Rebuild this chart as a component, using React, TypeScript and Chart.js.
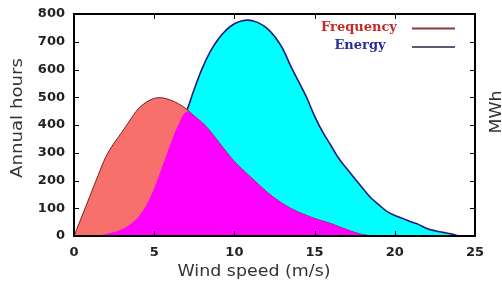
import React, { useEffect, useRef } from "react";
import { Chart, registerables } from "chart.js";

Chart.register(...registerables);

const windSpeed = [
  0, 0.5, 1, 1.5, 2, 2.5, 3, 3.5, 4, 4.5, 5, 5.5, 6, 6.5, 7, 7.5, 8, 8.5, 9, 9.5,
  10, 10.5, 11, 11.5, 12, 12.5, 13, 13.5, 14, 14.5, 15, 15.5, 16, 16.5, 17, 17.5,
  18, 18.5, 19, 19.5, 20, 20.5, 21, 21.5, 22, 22.5, 23, 23.5, 24, 24.5, 25,
];

const frequency = [
  0, 72, 145, 218, 287, 335, 375, 418, 458, 482, 496, 498, 490, 477, 458, 432,
  408, 377, 340, 303, 268, 240, 213, 186, 160, 137, 117, 100, 86, 74, 63, 54,
  45, 34, 23, 13, 5, 1, 0, 0, 0, 0, 0, 0, 0, 0, 0, 0, 0, 0, 0,
];

const energy = [
  0, 0, 0, 2, 7, 14, 24, 42, 68, 110, 172, 250, 330, 400, 448, 530, 605, 665,
  710, 743, 765, 776, 777, 768, 750, 720, 676, 614, 557, 500, 432, 375, 328,
  280, 243, 207, 172, 138, 113, 89, 74, 63, 51, 41, 27, 19, 13, 8, 1, 0, 0,
];

const xTicks = [0, 5, 10, 15, 20, 25];
const yTicks = [0, 100, 200, 300, 400, 500, 600, 700, 800];

const seriesNames = ["Frequency", "Energy"];
const xTitle = "Wind speed (m/s)";
const yTitle = "Annual hours";
const y2Title = "MWh";

function drawFitted(
  ctx: CanvasRenderingContext2D,
  text: string,
  cx: number,
  cy: number,
  targetW: number,
  font: string,
  color: string,
  rot: number
) {
  ctx.save();
  ctx.translate(cx, cy);
  if (rot) ctx.rotate(rot);
  ctx.font = font;
  const w = ctx.measureText(text).width;
  ctx.scale(targetW / w, 1);
  ctx.fillStyle = color;
  ctx.textAlign = "center";
  ctx.textBaseline = "middle";
  ctx.fillText(text, 0, 0);
  ctx.restore();
}

const overlayPlugin = {
  id: "framePlugin",
  afterDraw(chart: any) {
    const ctx = chart.ctx;
    const a = chart.chartArea;
    const xs = chart.scales.x;
    const ys = chart.scales.y;

    ctx.save();
    ctx.strokeStyle = "#000000";
    ctx.lineWidth = 2;
    ctx.strokeRect(a.left, a.top, a.right - a.left, a.bottom - a.top);
    ctx.lineWidth = 1;
    ctx.beginPath();
    for (let i = 1; i < yTicks.length - 1; i++) {
      const py = Math.round(ys.getPixelForValue(yTicks[i])) + 0.5;
      ctx.moveTo(a.left, py);
      ctx.lineTo(a.left + 5, py);
      ctx.moveTo(a.right, py);
      ctx.lineTo(a.right - 5, py);
    }
    for (let i = 1; i < xTicks.length - 1; i++) {
      const px = Math.round(xs.getPixelForValue(xTicks[i])) + 0.5;
      ctx.moveTo(px, a.bottom);
      ctx.lineTo(px, a.bottom - 5);
      ctx.moveTo(px, a.top);
      ctx.lineTo(px, a.top + 5);
    }
    ctx.stroke();
    ctx.restore();

    drawFitted(ctx, xTitle, 254, 272, 153, "15px 'DejaVu Sans'", "#333", 0);
    drawFitted(ctx, yTitle, 18.5, 118, 120, "15px 'DejaVu Sans'", "#333", -Math.PI / 2);
    drawFitted(ctx, y2Title, 497, 112, 43, "15px 'DejaVu Sans'", "#333", -Math.PI / 2);

    ctx.save();
    ctx.font = "bold 13px 'DejaVu Serif'";
    ctx.textAlign = "center";
    ctx.textBaseline = "middle";
    ctx.fillStyle = "#c42a2a";
    ctx.fillText(seriesNames[0], 359, 28);
    ctx.fillStyle = "#2b2b9e";
    ctx.fillText(seriesNames[1], 360, 46);
    ctx.fillStyle = "#8a3a3a";
    ctx.fillRect(412, 27.5, 43, 2);
    ctx.fillStyle = "#5a5a7a";
    ctx.fillRect(412, 46, 43, 2);
    ctx.restore();
  },
};

export default function App() {
  const canvasRef = useRef<HTMLCanvasElement | null>(null);

  useEffect(() => {
    if (!canvasRef.current) return;
    const freqPts = windSpeed.map((x, i) => ({ x, y: frequency[i] }));
    const energyPts = windSpeed.map((x, i) => ({ x, y: energy[i] }));
    const overlapPts = windSpeed.map((x, i) => ({
      x,
      y: Math.min(frequency[i], energy[i]),
    }));

    const frameBorder = { display: true, color: "#111111", width: 2 };

    const chart = new Chart(canvasRef.current, {
      type: "line",
      data: {
        datasets: [
          {
            label: "overlap",
            data: overlapPts,
            order: 1,
            fill: "origin",
            backgroundColor: "#FF00FF",
            borderWidth: 0,
            borderColor: "rgba(0,0,0,0)",
            pointRadius: 0,
            tension: 0.35,
          },
          {
            label: seriesNames[0],
            data: freqPts,
            order: 2,
            fill: "origin",
            backgroundColor: "#F7706C",
            borderColor: "#7a2020",
            borderWidth: 1,
            pointRadius: 0,
            tension: 0.35,
          },
          {
            label: seriesNames[1],
            data: energyPts,
            order: 3,
            fill: "origin",
            backgroundColor: "#00FFFF",
            borderColor: "#1a1a80",
            borderWidth: 1.6,
            pointRadius: 0,
            tension: 0.35,
          },
        ],
      },
      options: {
        animation: false,
        responsive: true,
        maintainAspectRatio: false,
        layout: { padding: { left: 0, top: 14, right: 27, bottom: 0 } },
        plugins: {
          legend: { display: false },
          tooltip: { enabled: false },
        },
        scales: {
          x: {
            type: "linear",
            min: 0,
            max: 25,
            afterFit: (s: any) => {
              s.height = 49;
              s.paddingLeft = 0;
              s.paddingRight = 0;
            },
            afterBuildTicks: (s: any) => {
              s.ticks = xTicks.map((v) => ({ value: v }));
            },
            grid: { display: false, drawTicks: false },
            border: frameBorder,
            ticks: {
              padding: 9,
              color: "#222",
              font: { family: "'DejaVu Sans'", size: 13, weight: "bold" },
              maxRotation: 0,
            },
          },
          xTop: {
            type: "linear",
            position: "top",
            min: 0,
            max: 25,
            afterFit: (s: any) => {
              s.height = 0;
              s.paddingLeft = 0;
              s.paddingRight = 0;
            },
            grid: { display: false, drawTicks: false },
            border: frameBorder,
            ticks: { display: false },
          },
          y: {
            type: "linear",
            min: 0,
            max: 800,
            afterFit: (s: any) => {
              s.width = 74;
              s.paddingTop = 0;
              s.paddingBottom = 0;
            },
            afterBuildTicks: (s: any) => {
              s.ticks = yTicks.map((v) => ({ value: v }));
            },
            grid: { display: false, drawTicks: false },
            border: frameBorder,
            ticks: {
              padding: 9,
              color: "#222",
              font: { family: "'DejaVu Sans'", size: 13, weight: "bold" },
            },
          },
          yRight: {
            type: "linear",
            position: "right",
            min: 0,
            max: 800,
            afterFit: (s: any) => {
              s.width = 0;
              s.paddingTop = 0;
              s.paddingBottom = 0;
            },
            grid: { display: false, drawTicks: false },
            border: frameBorder,
            ticks: { display: false },
          },
        },
      },
      plugins: [overlayPlugin],
    });
    return () => chart.destroy();
  }, []);

  return (
    <div style={{ position: "fixed", left: 0, top: 0, width: 502, height: 285, background: "#fff" }}>
      <canvas ref={canvasRef} />
    </div>
  );
}
